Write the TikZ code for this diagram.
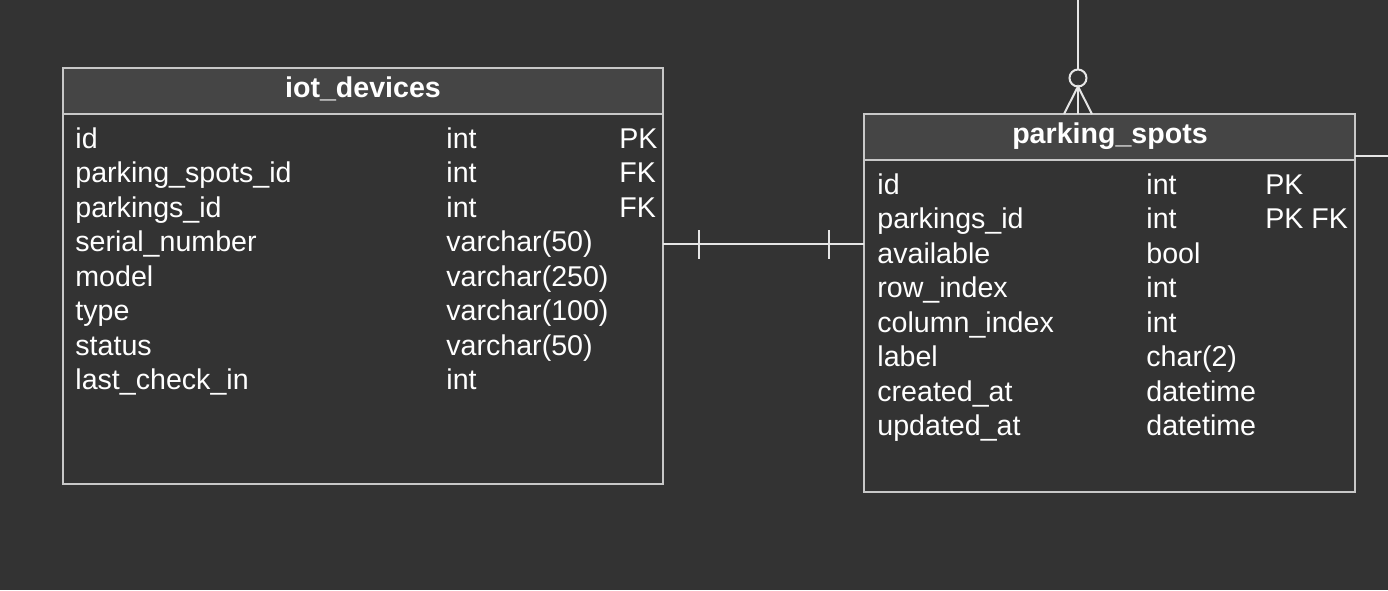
\documentclass[tikz,border=0pt]{standalone}
\usepackage{fontspec}
\setmainfont{Liberation Sans}
\usepackage{tikz}
\usetikzlibrary{positioning}

\definecolor{canvas}{HTML}{333333}
\definecolor{headfill}{HTML}{454545}
\definecolor{frame}{HTML}{C8C8C8}
\definecolor{link}{HTML}{E6E6E6}

\begin{document}
\begin{tikzpicture}[x=0.5pt, y=-0.5pt,
        table/.style={rectangle, draw=frame, fill=canvas, line width=1pt, inner sep=0pt, outer sep=0pt, anchor=north west},
        head/.style={rectangle, draw=frame, fill=headfill, line width=1pt, inner sep=0pt, outer sep=0pt, anchor=north west, minimum height=23pt},
        title/.style={anchor=base, inner sep=0pt, text=white, font=\fontsize{14.3pt}{17pt}\selectfont\bfseries},
        field/.style={anchor=base west, inner sep=0pt, text=white, font=\fontsize{14.3pt}{17pt}\selectfont},
        rel/.style={draw=link, line width=1pt}
      ]
        \useasboundingbox (0,0) rectangle (1388,590);
        \fill[canvas] (0,0) rectangle (1388,590);

        % tables
        \node[table, minimum width=300pt, minimum height=208pt]    (iot)      at (63,68)    {};
        \node[head, minimum width=300pt]                            (iot-head) at (63,68)    {};
        \node[title]  (iot-title)  at (363,97)    {iot\_devices};

        \node[table, minimum width=245.5pt, minimum height=189pt]  (ps)       at (864,114)  {};
        \node[head, minimum width=245.5pt]                          (ps-head)  at (864,114)  {};
        \node[title]  (ps-title)   at (1110,143)  {parking\_spots};

        \foreach \name/\type/\key [count=\i from 0] in {id/int/PK, parking\_spots\_id/int/FK, parkings\_id/int/FK,
            serial\_number/varchar(50)/{}, model/varchar(250)/{}, type/varchar(100)/{}, status/varchar(50)/{}, last\_check\_in/int/{}} {
          \node[field]  (iot-name-\i)  at (75,{148+34.57*\i})   {\name};
          \node[field]  (iot-type-\i)  at (446,{148+34.57*\i})  {\type};
          \node[field]  (iot-key-\i)   at (619,{148+34.57*\i})  {\key};
        }

        \foreach \name/\type/\key [count=\i from 0] in {id/int/PK, parkings\_id/int/PK FK, available/bool/{},
            row\_index/int/{}, column\_index/int/{}, label/char(2)/{}, created\_at/datetime/{}, updated\_at/datetime/{}} {
          \node[field]  (ps-name-\i)  at (877,{194+34.57*\i})   {\name};
          \node[field]  (ps-type-\i)  at (1146,{194+34.57*\i})  {\type};
          \node[field]  (ps-key-\i)   at (1265,{194+34.57*\i})  {\key};
        }

        % one to one
        \coordinate (link-a) at ([yshift=16pt]iot.east);
        \coordinate (link-b) at (link-a -| ps.west);
        \draw[rel]  (link-a) -- (link-b);
        \draw[rel]  ([xshift=18pt]link-a) ++(0,-14) -- ++(0,29);
        \draw[rel]  ([xshift=-17.5pt]link-b) ++(0,-14) -- ++(0,29);

        % zero or many
        \coordinate (crow) at ([xshift=-15.75pt]ps.north);
        \coordinate (crow-top) at (crow |- 0,0);
        \draw[rel]  (crow-top) -- ([yshift=22.25pt]crow);
        \draw[rel]  ([yshift=18pt]crow) circle[radius=4.25pt];
        \draw[rel]  ([xshift=-7pt]crow) -- ([yshift=13.75pt]crow) -- ([xshift=7pt]crow);
        \draw[rel]  ([yshift=13.75pt]crow) -- (crow);

        % off to the right
        \coordinate (out-end) at (1388,155.5);
        \draw[rel]  (ps.east |- out-end) -- (out-end);
      \end{tikzpicture}
\end{document}
